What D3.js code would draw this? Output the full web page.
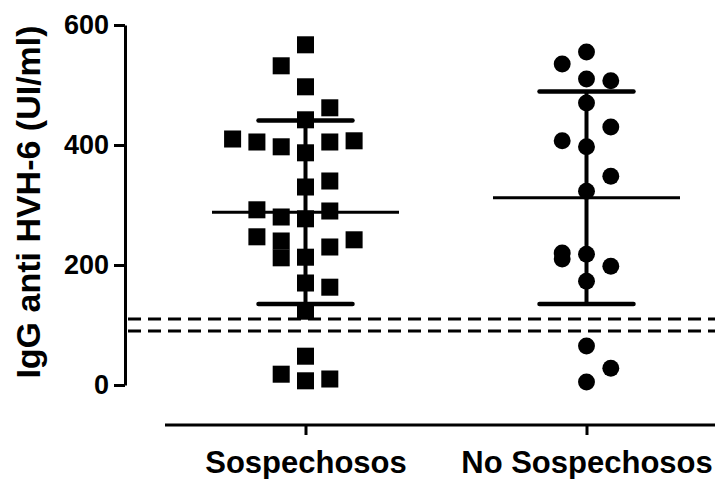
<!DOCTYPE html>
<html>
<head>
<meta charset="utf-8">
<script src="https://cdn.jsdelivr.net/npm/d3@7"></script>
<style>
  body { margin: 0; background: #fff; }
  text { font-family: "Liberation Sans", Arial, sans-serif; font-weight: bold; }
</style>
</head>
<body>
<div id="chart"></div>
<script>
// groups and their values
var groups = ["Sospechosos", "No Sospechosos"];
var shapes = ["square", "circle"];

var sospValues = [567, 532, 497, 462, 442, 410, 405, 397, 387, 405, 407, 340, 330,
                  292, 280, 277, 290, 247, 240, 230, 242, 212, 213, 170, 163, 123,
                  48, 18, 7, 10];
// column of each point in the scatter (Prism style spread)
var sospCols = [0, -1, 0, 1, 0, -3, -2, -1, 0, 1, 2, 1, 0,
                -2, -1, 0, 1, -2, -1, 1, 2, -1, 0, 0, 1, 0,
                0, -1, 0, 1];

var noSospValues = [555, 535, 510, 507, 470, 430, 407, 397, 348, 323, 220, 210,
                    218, 198, 173, 65, 28, 5];
var noSospCols = [0, -1, 0, 1, 0, 1, -1, 0, 1, 0, -1, -1, 0, 1, 0, 0, 1, 0];

var means = [288, 312];
var sds = [153, 177];

// cut-off lines
var cutoffs = [110, 90];

var yTicks = [0, 200, 400, 600];

var width = 715, height = 479;

var svg = d3.select("#chart").append("svg")
  .attr("width", width).attr("height", height);

var y = d3.scaleLinear().domain([0, 600]).range([385, 25]);
var x = d3.scalePoint().domain(groups).range([305.5, 586.5]);
var colX = d3.scaleLinear().domain([0, 1]).range([0, 24.3]);

var meanHalf = 93.5, capHalf = 47;

// dashed cut-off lines
svg.selectAll(".cut").data(cutoffs).enter().append("line")
  .attr("class", "cut")
  .attr("x1", 128).attr("x2", width)
  .attr("y1", function(d) { return y(d); }).attr("y2", function(d) { return y(d); })
  .attr("stroke", "#000").attr("stroke-width", 3.2)
  .attr("stroke-dasharray", "13,7");

// points
var pts = [];
sospValues.forEach(function(v, i) { pts.push({g: groups[0], v: v, c: sospCols[i], s: shapes[0]}); });
noSospValues.forEach(function(v, i) { pts.push({g: groups[1], v: v, c: noSospCols[i], s: shapes[1]}); });

var sym = d3.symbol().size(290);
svg.selectAll(".pt").data(pts).enter().append("path")
  .attr("class", "pt")
  .attr("transform", function(d) { return "translate(" + (x(d.g) + colX(d.c)) + "," + y(d.v) + ")"; })
  .attr("d", function(d) {
    return d.s == "square" ? sym.type(d3.symbolSquare)() : d3.symbol().type(d3.symbolCircle).size(225)();
  })
  .attr("fill", "#000");

// mean lines
svg.selectAll(".mean").data(groups).enter().append("line")
  .attr("x1", function(d) { return x(d) - meanHalf; })
  .attr("x2", function(d) { return x(d) + meanHalf; })
  .attr("y1", function(d, i) { return y(means[i]); })
  .attr("y2", function(d, i) { return y(means[i]); })
  .attr("stroke", "#000").attr("stroke-width", 3);

// sd bars
svg.selectAll(".sdv").data(groups).enter().append("line")
  .attr("x1", function(d) { return x(d); }).attr("x2", function(d) { return x(d); })
  .attr("y1", function(d, i) { return y(means[i] + sds[i]); })
  .attr("y2", function(d, i) { return y(means[i] - sds[i]); })
  .attr("stroke", "#000").attr("stroke-width", 4);

var caps = [];
groups.forEach(function(g, i) {
  caps.push({g: g, v: means[i] + sds[i]});
  caps.push({g: g, v: means[i] - sds[i]});
});
svg.selectAll(".cap").data(caps).enter().append("line")
  .attr("x1", function(d) { return x(d.g) - capHalf; })
  .attr("x2", function(d) { return x(d.g) + capHalf; })
  .attr("y1", function(d) { return y(d.v); }).attr("y2", function(d) { return y(d.v); })
  .attr("stroke", "#000").attr("stroke-width", 4.5).attr("stroke-linecap", "round");

// y axis
var yAxis = svg.append("g").attr("transform", "translate(125,0)")
  .call(d3.axisLeft(y).tickValues(yTicks).tickSize(11).tickPadding(5).tickSizeOuter(0));
yAxis.select(".domain").attr("stroke-width", 3);
yAxis.selectAll(".tick line").attr("stroke-width", 3);
yAxis.selectAll(".tick text").attr("font-size", 27).attr("font-family", "Liberation Sans, Arial").attr("font-weight", "bold").attr("fill", "#000");

// x axis
var xAxisScale = d3.scalePoint().domain(groups).range([305.5, 586.5]);
var xAxis = svg.append("g").attr("transform", "translate(0,425)")
  .call(d3.axisBottom(xAxisScale).tickSize(10).tickPadding(16).tickSizeOuter(0));
xAxis.select(".domain").attr("d", "M165,0H" + width).attr("stroke-width", 3);
xAxis.selectAll(".tick line").attr("stroke-width", 3);
xAxis.selectAll(".tick text").attr("font-size", 31).attr("font-family", "Liberation Sans, Arial").attr("font-weight", "bold").attr("fill", "#000");

// y axis title
svg.append("text")
  .attr("transform", "translate(40,202) rotate(-90)")
  .attr("text-anchor", "middle")
  .attr("font-size", 34)
  .text("IgG anti HVH-6 (UI/ml)");
</script>
</body>
</html>
